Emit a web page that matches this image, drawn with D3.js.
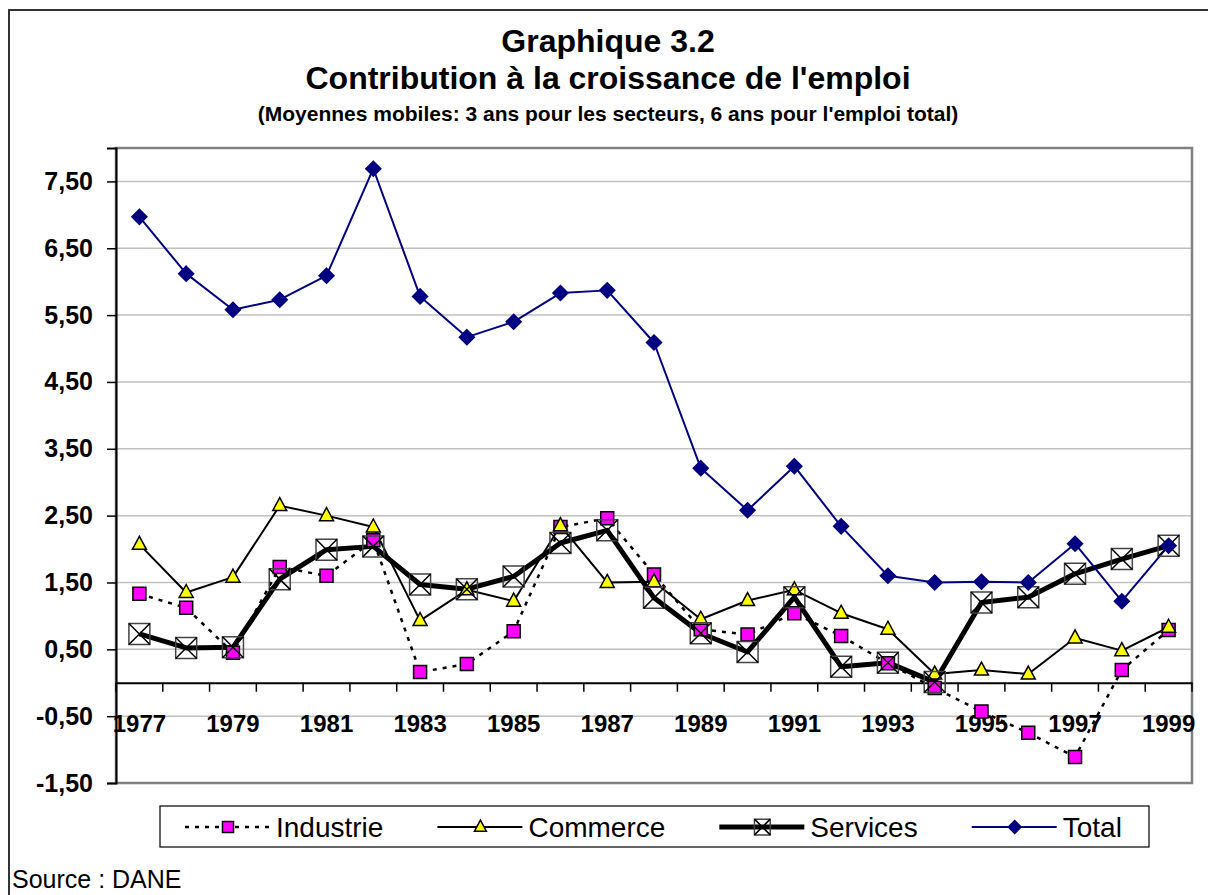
<!DOCTYPE html>
<html>
<head>
<meta charset="utf-8">
<script src="https://cdn.jsdelivr.net/npm/d3@7"></script>
<style>
  body { margin: 0; background: #fff; }
  svg { display: block; font-family: Arial, "Liberation Sans", sans-serif; }
</style>
</head>
<body>
<svg id="chart" width="1208" height="895"></svg>
<script>
// data
var years = ['1977', '1978', '1979', '1980', '1981', '1982', '1983', '1984', '1985', '1986', '1987', '1988',
  '1989', '1990', '1991', '1992', '1993', '1994', '1995', '1996', '1997', '1998', '1999'];
var industrie = [1.33, 1.12, 0.45, 1.73, 1.60, 2.13, 0.16, 0.28, 0.77, 2.33, 2.46, 1.62,
  0.80, 0.72, 1.04, 0.70, 0.29, -0.08, -0.43, -0.75, -1.11, 0.19, 0.79];
var commerce = [2.07, 1.35, 1.58, 2.65, 2.50, 2.33, 0.93, 1.39, 1.22, 2.35, 1.50, 1.51,
  0.95, 1.23, 1.39, 1.04, 0.80, 0.13, 0.19, 0.13, 0.67, 0.48, 0.83];
var services = [0.73, 0.52, 0.53, 1.55, 1.99, 2.04, 1.47, 1.40, 1.59, 2.09, 2.28, 1.27,
  0.74, 0.46, 1.28, 0.24, 0.30, 0.01, 1.20, 1.28, 1.63, 1.85, 2.05];
var total = [6.97, 6.12, 5.58, 5.73, 6.09, 7.69, 5.78, 5.17, 5.40, 5.83, 5.87, 5.09,
  3.21, 2.58, 3.24, 2.34, 1.60, 1.50, 1.51, 1.50, 2.08, 1.22, 2.05];
var yTicks = [-1.5, -0.5, 0.5, 1.5, 2.5, 3.5, 4.5, 5.5, 6.5, 7.5];
var xLabels = years.filter(function(d, i) { return i % 2 === 0; });

var svg = d3.select('#chart');
var plot = { left: 116, right: 1192, top: 148, bottom: 783 };

var x = d3.scaleBand().domain(years).range([plot.left, plot.right]);
var y = d3.scaleLinear().domain([-1.5, 8]).range([plot.bottom, plot.top]);
var fr = d3.formatLocale({ decimal: ',', thousands: ' ', grouping: [3], currency: ['', ''], minus: '-' });
var fmt = fr.format('.2f');

// outer frame
svg.append('rect')
  .attr('x', 9).attr('y', 10).attr('width', 1400).attr('height', 1000)
  .attr('fill', 'none').attr('stroke', '#333').attr('stroke-width', 2);

// titles
svg.append('text').attr('x', 608).attr('y', 52).attr('text-anchor', 'middle')
  .attr('font-size', 32).attr('font-weight', 'bold').text('Graphique 3.2');
svg.append('text').attr('x', 608).attr('y', 89).attr('text-anchor', 'middle')
  .attr('font-size', 32).attr('font-weight', 'bold').text('Contribution à la croissance de l\'emploi');
svg.append('text').attr('x', 608).attr('y', 121).attr('text-anchor', 'middle')
  .attr('font-size', 21).attr('font-weight', 'bold')
  .text('(Moyennes mobiles: 3 ans pour les secteurs, 6 ans pour l\'emploi total)');

// gridlines
svg.append('g').selectAll('line').data(yTicks).enter().append('line')
  .attr('x1', plot.left).attr('x2', plot.right)
  .attr('y1', function(d) { return y(d); }).attr('y2', function(d) { return y(d); })
  .attr('stroke', '#c0c0c0').attr('stroke-width', 1.5);

// plot border
svg.append('rect')
  .attr('x', plot.left).attr('y', plot.top)
  .attr('width', plot.right - plot.left).attr('height', plot.bottom - plot.top)
  .attr('fill', 'none').attr('stroke', '#808080').attr('stroke-width', 2.5);

// y axis
var yAxis = svg.append('g')
  .attr('transform', 'translate(' + plot.left + ',0)')
  .call(d3.axisLeft(y).tickValues(yTicks).tickFormat(fmt).tickSize(9).tickPadding(14));
yAxis.select('.domain').attr('stroke', '#000').attr('stroke-width', 2);
yAxis.selectAll('.tick line').attr('stroke', '#000').attr('stroke-width', 1.5);
yAxis.selectAll('text').attr('font-size', 25).attr('font-weight', 'bold').attr('fill', '#000')
  .attr('font-family', 'Arial, "Liberation Sans", sans-serif');

// x axis at zero
var xAxis = svg.append('g')
  .attr('transform', 'translate(0,' + y(0) + ')')
  .call(d3.axisBottom(x).tickValues(xLabels).tickSize(0).tickPadding(0));
xAxis.select('.domain').attr('stroke', '#000').attr('stroke-width', 2);
xAxis.selectAll('text').attr('y', 49).attr('dy', null)
  .attr('font-size', 24).attr('font-weight', 'bold').attr('fill', '#000')
  .attr('font-family', 'Arial, "Liberation Sans", sans-serif');
xAxis.selectAll('.boundary').data(years.concat(['end'])).enter().append('line')
  .attr('class', 'boundary')
  .attr('x1', function(d) { return d === 'end' ? plot.right : x(d); })
  .attr('x2', function(d) { return d === 'end' ? plot.right : x(d); })
  .attr('y1', 0).attr('y2', 9)
  .attr('stroke', '#000').attr('stroke-width', 1.5);

// series
var sq = 'M-6.5,-6.5H6.5V6.5H-6.5Z';
var tri = 'M0,-8L7,5H-7Z';
var dia = 'M0,-7.5L7.5,0L0,7.5L-7.5,0Z';
var boxX = 'M-10.5,-10.5H10.5V10.5H-10.5Z';
var boxXin = 'M-10.5,-10.5L10.5,10.5M10.5,-10.5L-10.5,10.5';

var series = [
  { name: 'Industrie', values: industrie, stroke: '#000', width: 2.5, dash: '4,6', marker: sq, fill: '#ff00ff', mstroke: '#000' },
  { name: 'Commerce', values: commerce, stroke: '#000', width: 2, dash: null, marker: tri, fill: '#ffff00', mstroke: '#000' },
  { name: 'Services', values: services, stroke: '#000', width: 5, dash: null, marker: boxX, fill: 'none', mstroke: '#444' },
  { name: 'Total', values: total, stroke: '#000080', width: 2, dash: null, marker: dia, fill: '#000080', mstroke: '#000080' }
];

var line = d3.line()
  .x(function(d, i) { return x(years[i]) + x.bandwidth() / 2; })
  .y(function(d) { return y(d); });

var lines = svg.append('g');
series.forEach(function(s) {
  lines.append('path')
    .attr('d', line(s.values))
    .attr('fill', 'none')
    .attr('stroke', s.stroke)
    .attr('stroke-width', s.width)
    .attr('stroke-linejoin', 'round')
    .attr('stroke-dasharray', s.dash);
});

function drawMarker(g, s, size) {
  var k = size || 1;
  g.append('path').attr('d', s.marker)
    .attr('transform', 'scale(' + k + ')')
    .attr('fill', s.fill).attr('stroke', s.mstroke).attr('stroke-width', 1.5 / k);
  if (s.name === 'Services') {
    g.append('path').attr('d', boxXin)
      .attr('transform', 'scale(' + k + ')')
      .attr('fill', 'none').attr('stroke', '#000').attr('stroke-width', 1.5 / k);
  }
}

var marks = svg.append('g');
series.forEach(function(s) {
  marks.append('g').selectAll('g').data(s.values).enter().append('g')
    .attr('transform', function(d, i) {
      return 'translate(' + (x(years[i]) + x.bandwidth() / 2) + ',' + y(d) + ')';
    })
    .each(function() { drawMarker(d3.select(this), s); });
});

// legend
var legend = svg.append('g');
legend.append('rect')
  .attr('x', 160).attr('y', 806).attr('width', 989).attr('height', 41)
  .attr('fill', '#fff').attr('stroke', '#000').attr('stroke-width', 1.2);

var lx = 185, ly = 827;
series.forEach(function(s) {
  var item = legend.append('g').attr('transform', 'translate(' + lx + ',' + ly + ')');
  item.append('line').attr('x1', 0).attr('x2', 85).attr('y1', 0).attr('y2', 0)
    .attr('stroke', s.stroke).attr('stroke-width', s.width)
    .attr('stroke-dasharray', s.dash);
  var m = item.append('g').attr('transform', 'translate(43,0)');
  drawMarker(m, s, s.name === 'Services' ? 0.75 : 0.85);
  var t = item.append('text').attr('x', 91).attr('y', 10)
    .attr('font-size', 28).attr('fill', '#000').text(s.name);
  lx += 91 + t.node().getComputedTextLength() + 54;
});

// source
svg.append('text').attr('x', 12).attr('y', 888)
  .attr('font-size', 25).attr('fill', '#000').text('Source : DANE');
</script>
</body>
</html>
